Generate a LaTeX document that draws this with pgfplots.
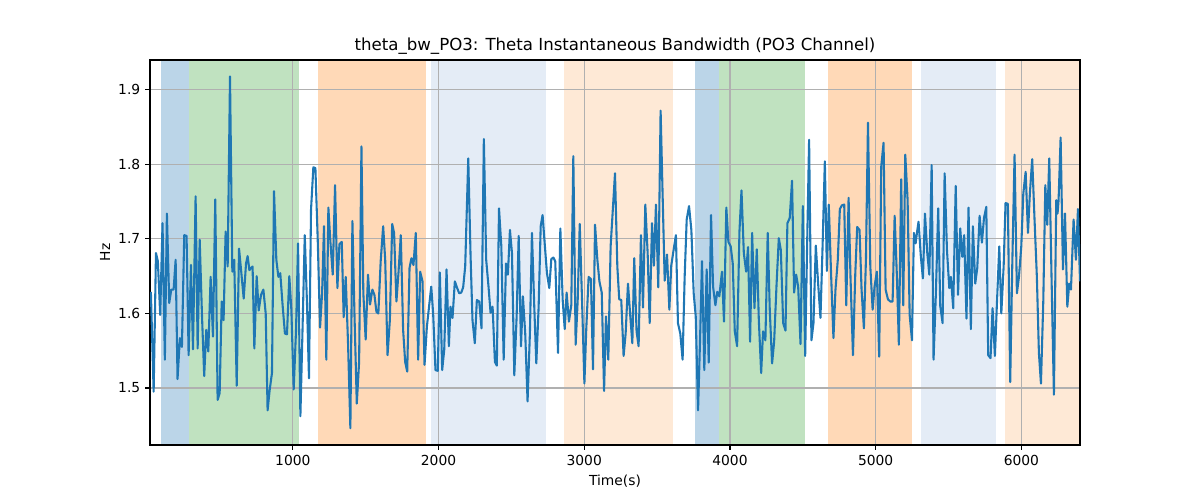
\documentclass[border=0pt]{standalone}
\usepackage{pgfplots}
\pgfplotsset{compat=1.18}
\usepackage{pgfplotstable}
\usepackage{fontspec}
\setmainfont{DejaVu Sans}
\definecolor{tabblue}{RGB}{31,119,180}
\definecolor{spanblue}{RGB}{187,213,232}
\definecolor{spangreen}{RGB}{192,226,192}
\definecolor{spanorange}{RGB}{255,217,183}
\definecolor{spanlblue}{RGB}{228,236,246}
\definecolor{spanlorange}{RGB}{254,233,214}
\definecolor{gridgray}{RGB}{176,176,176}
\pgfplotstableread{
x y
26 1.629
45 1.495
61 1.681
74 1.670
90 1.598
106 1.721
122 1.538
136 1.734
152 1.614
166 1.632
182 1.632
196 1.672
209 1.512
225 1.567
239 1.555
255 1.705
271 1.704
285 1.544
301 1.665
315 1.552
333 1.757
347 1.553
361 1.699
377 1.596
392 1.516
406 1.578
420 1.549
436 1.649
452 1.569
468 1.753
484 1.484
498 1.493
512 1.616
525 1.591
539 1.710
553 1.663
569 1.918
585 1.656
598 1.672
615 1.503
631 1.687
647 1.654
663 1.620
679 1.667
690 1.677
702 1.658
713 1.661
724 1.663
736 1.553
752 1.650
766 1.604
782 1.625
798 1.632
814 1.600
827 1.470
841 1.497
857 1.520
871 1.764
887 1.672
901 1.649
914 1.654
930 1.611
946 1.573
960 1.572
976 1.650
990 1.605
1006 1.498
1022 1.577
1036 1.694
1052 1.462
1066 1.573
1082 1.705
1098 1.609
1111 1.513
1125 1.739
1141 1.796
1155 1.795
1171 1.699
1187 1.581
1201 1.627
1214 1.717
1230 1.538
1244 1.742
1258 1.696
1274 1.652
1290 1.772
1306 1.634
1320 1.693
1336 1.696
1349 1.595
1363 1.649
1379 1.560
1395 1.446
1409 1.724
1423 1.600
1439 1.479
1455 1.535
1471 1.824
1484 1.627
1500 1.565
1516 1.652
1530 1.612
1546 1.632
1560 1.625
1574 1.602
1587 1.600
1603 1.670
1620 1.717
1634 1.672
1650 1.544
1666 1.591
1682 1.720
1695 1.708
1711 1.616
1725 1.654
1741 1.705
1757 1.578
1771 1.535
1785 1.522
1801 1.661
1814 1.674
1828 1.665
1844 1.708
1860 1.538
1874 1.656
1890 1.643
1904 1.531
1920 1.582
1936 1.611
1950 1.636
1963 1.600
1979 1.524
1995 1.523
2009 1.655
2025 1.524
2039 1.551
2055 1.659
2071 1.556
2082 1.609
2096 1.594
2112 1.643
2128 1.634
2142 1.627
2156 1.628
2169 1.635
2183 1.663
2204 1.808
2220 1.676
2233 1.591
2249 1.560
2263 1.618
2279 1.616
2295 1.580
2311 1.834
2327 1.672
2343 1.636
2357 1.601
2371 1.609
2387 1.535
2400 1.530
2415 1.741
2431 1.690
2447 1.538
2463 1.667
2476 1.652
2490 1.712
2504 1.681
2520 1.517
2536 1.596
2550 1.704
2566 1.556
2579 1.623
2595 1.573
2611 1.482
2627 1.573
2641 1.708
2657 1.609
2671 1.533
2687 1.609
2701 1.717
2714 1.732
2730 1.690
2744 1.654
2760 1.634
2774 1.673
2788 1.675
2801 1.670
2820 1.547
2836 1.714
2852 1.618
2866 1.579
2879 1.628
2895 1.589
2911 1.611
2925 1.811
2941 1.558
2955 1.618
2969 1.720
2985 1.616
3001 1.506
3014 1.580
3030 1.649
3046 1.646
3060 1.525
3074 1.719
3090 1.672
3104 1.643
3120 1.628
3136 1.496
3149 1.596
3165 1.538
3181 1.690
3211 1.788
3227 1.663
3240 1.619
3254 1.618
3270 1.543
3284 1.573
3300 1.640
3316 1.596
3330 1.560
3343 1.674
3359 1.576
3373 1.556
3389 1.705
3403 1.608
3419 1.746
3435 1.681
3449 1.587
3465 1.721
3478 1.664
3492 1.746
3508 1.635
3524 1.872
3538 1.757
3552 1.644
3568 1.679
3584 1.605
3597 1.664
3613 1.685
3629 1.705
3643 1.587
3659 1.573
3675 1.538
3689 1.649
3703 1.726
3719 1.744
3735 1.712
3751 1.627
3765 1.596
3781 1.470
3794 1.560
3808 1.670
3824 1.524
3840 1.659
3854 1.534
3870 1.732
3884 1.636
3900 1.611
3913 1.629
3927 1.623
3945 1.656
3959 1.589
3975 1.742
3989 1.696
4005 1.690
4019 1.667
4033 1.576
4049 1.556
4065 1.710
4079 1.765
4095 1.681
4111 1.656
4124 1.689
4138 1.562
4152 1.708
4168 1.607
4184 1.686
4198 1.591
4214 1.520
4227 1.576
4243 1.564
4259 1.708
4273 1.605
4289 1.533
4303 1.562
4319 1.636
4335 1.701
4349 1.685
4365 1.587
4381 1.577
4394 1.721
4410 1.728
4426 1.778
4440 1.628
4454 1.652
4468 1.636
4484 1.559
4500 1.744
4516 1.543
4529 1.687
4543 1.833
4559 1.564
4573 1.587
4589 1.691
4605 1.640
4621 1.594
4635 1.687
4651 1.804
4665 1.657
4678 1.746
4694 1.652
4710 1.567
4724 1.632
4740 1.672
4754 1.740
4768 1.745
4784 1.746
4798 1.611
4814 1.755
4827 1.649
4844 1.544
4860 1.654
4873 1.716
4889 1.712
4903 1.632
4919 1.580
4933 1.672
4947 1.856
4963 1.663
4979 1.605
4992 1.636
5008 1.656
5024 1.542
5038 1.797
5054 1.829
5068 1.632
5084 1.619
5100 1.616
5116 1.616
5130 1.731
5146 1.647
5159 1.558
5175 1.780
5189 1.611
5203 1.813
5219 1.752
5233 1.598
5249 1.564
5262 1.708
5274 1.694
5283 1.708
5294 1.723
5310 1.676
5324 1.647
5338 1.734
5354 1.681
5368 1.652
5384 1.799
5397 1.538
5413 1.627
5429 1.741
5443 1.610
5459 1.587
5473 1.788
5489 1.685
5505 1.634
5516 1.649
5532 1.607
5549 1.771
5565 1.625
5580 1.714
5594 1.676
5607 1.705
5623 1.593
5637 1.742
5653 1.579
5667 1.717
5683 1.640
5697 1.661
5713 1.731
5729 1.695
5743 1.728
5759 1.743
5772 1.544
5788 1.540
5802 1.607
5818 1.543
5832 1.614
5848 1.690
5862 1.600
5878 1.663
5891 1.748
5907 1.747
5923 1.508
5937 1.663
5953 1.813
5969 1.627
5983 1.649
5999 1.690
6013 1.761
6029 1.790
6045 1.708
6058 1.761
6074 1.807
6090 1.726
6106 1.649
6120 1.547
6134 1.506
6150 1.616
6164 1.772
6177 1.719
6191 1.808
6207 1.645
6223 1.491
6239 1.752
6248 1.734
6255 1.752
6269 1.836
6285 1.659
6299 1.734
6315 1.609
6328 1.640
6340 1.632
6358 1.726
6374 1.672
6388 1.740
6402 1.643
}\bwdata
\begin{document}
\begin{tikzpicture}
\begin{axis}[
  set layers=standard,
  at={(0,0)}, anchor=south west,
  scale only axis,
  width=669.6bp, height=277.2bp,
  xmin=20, xmax=6402,
  ymin=1.4235, ymax=1.940,
  xtick={1000,2000,3000,4000,5000,6000},
  ytick={1.5,1.6,1.7,1.8,1.9},
  /pgf/number format/assume math mode=true,
  xticklabel style={/pgf/number format/1000 sep={}},
  yticklabel style={/pgf/number format/fixed, /pgf/number format/fixed zerofill, /pgf/number format/precision=1},
  tick label style={font=\fontsize{10}{12}\selectfont},
  tick align=outside,
  major tick length=3.5bp,
  xtick style={draw=black, line width=0.8bp},
  ytick style={draw=black, line width=0.8bp},
  xtick pos=bottom, ytick pos=left,
  axis line style={black, line width=0.8bp},
  grid=major,
  major grid style={gridgray, line width=0.8bp},
  every axis title shift=0pt,
  title={theta\_bw\_PO3: Theta Instantaneous Bandwidth (PO3 Channel)},
  title style={at={(axis description cs:0.5,1.0364)}, anchor=center, font=\fontsize{12}{14}\selectfont},
  xlabel={Time(s)},
  xlabel style={at={(axis description cs:0.5,-0.0938)}, anchor=center, font=\fontsize{10}{12}\selectfont},
  ylabel={Hz},
  ylabel style={at={(axis description cs:-0.0484,0.5)}, anchor=center, font=\fontsize{10}{12}\selectfont},
]
\addplot[fill=spanblue, draw=none, on layer=axis background] coordinates {(93,1.4235) (93,1.94) (285,1.94) (285,1.4235)} -- cycle;
\addplot[fill=spangreen, draw=none, on layer=axis background] coordinates {(285,1.4235) (285,1.94) (1045,1.94) (1045,1.4235)} -- cycle;
\addplot[fill=spanorange, draw=none, on layer=axis background] coordinates {(1172,1.4235) (1172,1.94) (1915,1.94) (1915,1.4235)} -- cycle;
\addplot[fill=spanlblue, draw=none, on layer=axis background] coordinates {(1947,1.4235) (1947,1.94) (2735,1.94) (2735,1.4235)} -- cycle;
\addplot[fill=spanlorange, draw=none, on layer=axis background] coordinates {(2860,1.4235) (2860,1.94) (3612,1.94) (3612,1.4235)} -- cycle;
\addplot[fill=spanblue, draw=none, on layer=axis background] coordinates {(3760,1.4235) (3760,1.94) (3926,1.94) (3926,1.4235)} -- cycle;
\addplot[fill=spangreen, draw=none, on layer=axis background] coordinates {(3926,1.4235) (3926,1.94) (4512,1.94) (4512,1.4235)} -- cycle;
\addplot[fill=spanorange, draw=none, on layer=axis background] coordinates {(4674,1.4235) (4674,1.94) (5247,1.94) (5247,1.4235)} -- cycle;
\addplot[fill=spanlblue, draw=none, on layer=axis background] coordinates {(5312,1.4235) (5312,1.94) (5826,1.94) (5826,1.4235)} -- cycle;
\addplot[fill=spanlorange, draw=none, on layer=axis background] coordinates {(5889,1.4235) (5889,1.94) (6402,1.94) (6402,1.4235)} -- cycle;
\addplot[tabblue, line width=1.5bp, line join=round] table[x=x, y=y] {\bwdata};
\end{axis}
\path (-108bp,-39.6bp) rectangle (756bp,320.4bp);
\end{tikzpicture}
\end{document}
